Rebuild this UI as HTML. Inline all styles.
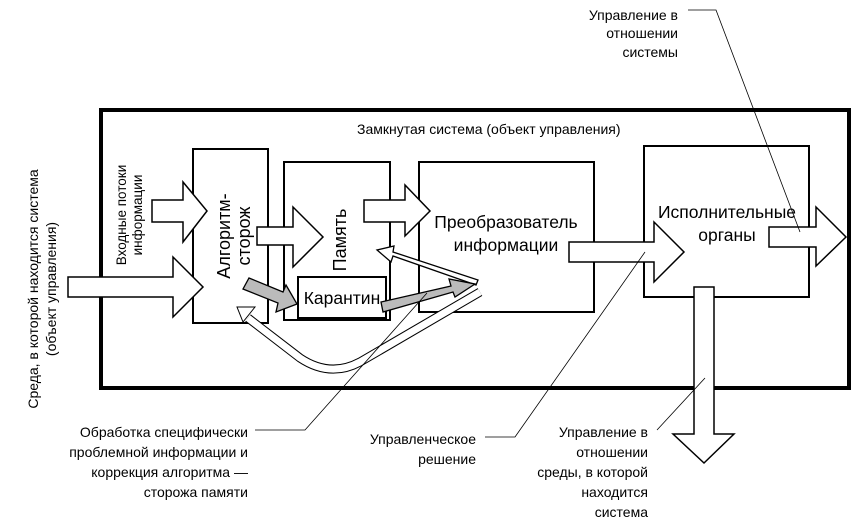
<!DOCTYPE html>
<html><head><meta charset="utf-8"><style>
html,body{margin:0;padding:0;background:#fff;}
svg{display:block;font-family:"Liberation Sans","DejaVu Sans",sans-serif;}
</style></head><body>
<svg width="868" height="522" viewBox="0 0 868 522" xmlns="http://www.w3.org/2000/svg">
<rect width="868" height="522" fill="#fff"/>
<rect x="101" y="110" width="748" height="278" fill="none" stroke="#000" stroke-width="4"/>
<text x="357" y="134" font-size="14">Замкнутая система (объект управления)</text>
<g fill="#fff" stroke="#000" stroke-width="2">
<rect x="193" y="149" width="75" height="174"/>
<rect x="284" y="162" width="106" height="158"/>
<rect x="419" y="162" width="175" height="150"/>
<rect x="644" y="146" width="165" height="151"/>
</g>
<g fill="#fff" stroke="#000" stroke-width="1.5">
<polygon points="152,200 183,200 183,182 207,211 183,242 183,222 152,222"/>
<polygon points="68,277 173,277 173,257 203,287 173,317 173,297 68,297"/>
<polygon points="257,227 293,227 293,207 323,237 293,267 293,245 257,245"/>
<polygon points="364,200 405,200 405,185 430,211 405,236 405,222 364,222"/>
<polygon points="569,242 654,242 654,222 684,252 654,282 654,262 569,262"/>
<polygon points="769,227 816,227 816,207 846,237 816,266 816,247 769,247"/>
<polygon points="694,287 714,287 714,434 734,434 704,463 673,434 694,434"/>
</g>
<rect x="298" y="277" width="88" height="41" fill="#fff" stroke="#000" stroke-width="2"/>
<text x="342" y="304" font-size="17.5" text-anchor="middle">Карантин</text>
<path d="M480,292 L360,362 Q330,378 300,358 L248,318" fill="none" stroke="#000" stroke-width="9"/>
<path d="M480,292 L360,362 Q330,378 300,358 L248,318" fill="none" stroke="#fff" stroke-width="7"/>
<polygon points="237,307 255,307 243,322" fill="#fff" stroke="#000" stroke-width="1"/>
<polygon points="476,285 393,256 391,262 377,250 394,246 393,252 478,280" fill="#fff" stroke="#000" stroke-width="1.3"/>
<polygon points="249,278 283,292 286,285 297,304 276,312 278,303 243,289" fill="#bbb" stroke="#000" stroke-width="1.3"/>
<polygon points="381,302 451,286 449,279 475,284 455,297 453,292 383,312" fill="#bbb" stroke="#000" stroke-width="1.3"/>
<text transform="translate(236,236) rotate(-90)" font-size="18" text-anchor="middle"><tspan x="0" y="-6">Алгоритм-</tspan><tspan x="0" y="14">сторож</tspan></text>
<text transform="translate(346,240) rotate(-90)" font-size="18" text-anchor="middle">Память</text>
<text x="506" y="228" font-size="17.5" text-anchor="middle">Преобразователь</text>
<text x="506" y="251" font-size="17.5" text-anchor="middle">информации</text>
<text x="727" y="218" font-size="17.5" text-anchor="middle">Исполнительные</text>
<text x="727" y="241" font-size="17.5" text-anchor="middle">органы</text>
<text transform="translate(133,215) rotate(-90)" font-size="13.5" text-anchor="middle"><tspan x="0" y="-7">Входные потоки</tspan><tspan x="0" y="9">информации</tspan></text>
<text transform="translate(44,289) rotate(-90)" font-size="14" text-anchor="middle"><tspan x="0" y="-6">Среда, в которой находится система</tspan><tspan x="0" y="12">(объект управления)</tspan></text>
<g stroke="#000" stroke-width="0.8" fill="none">
<polyline points="688,10 716,10 800,232"/>
<polyline points="255,430 305,430 427,293"/>
<polyline points="485,437 515,437 645,252"/>
<polyline points="657,430 705,378"/>
</g>
<g font-size="14" text-anchor="end">
<text x="678" y="20">Управление в</text>
<text x="678" y="38">отношении</text>
<text x="678" y="57">системы</text>
<text x="248" y="437">Обработка специфически</text>
<text x="248" y="457">проблемной информации и</text>
<text x="248" y="477">коррекция алгоритма —</text>
<text x="248" y="497">сторожа памяти</text>
<text x="476" y="444">Управленческое</text>
<text x="476" y="464">решение</text>
<text x="648" y="437">Управление в</text>
<text x="648" y="457">отношении</text>
<text x="648" y="477">среды, в которой</text>
<text x="648" y="497">находится</text>
<text x="648" y="517">система</text>
</g>
</svg>
</body></html>
